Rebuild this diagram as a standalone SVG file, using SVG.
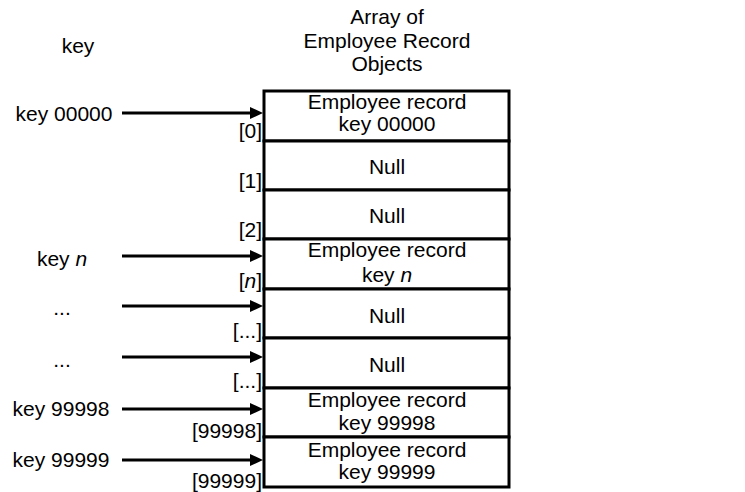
<svg xmlns="http://www.w3.org/2000/svg" width="745" height="492" viewBox="0 0 745 492">
<defs>
<style>
text{font-family:"Liberation Sans",Arial,sans-serif;font-size:21px;fill:#000}
.m{text-anchor:middle}
.e{text-anchor:end}
.cell{fill:#fff;stroke:#000;stroke-width:3}
.conn{stroke:#000;stroke-width:3;fill:none;marker-end:url(#ah)}
</style>
<marker id="ah" viewBox="0 0 13 12" refX="0" refY="6" markerWidth="13" markerHeight="12" markerUnits="userSpaceOnUse" orient="auto">
<path d="M0,0 L13,6 L0,12 z" fill="#000"/>
</marker>
</defs>
<rect width="745" height="492" fill="#fff"/>
<g id="title">
<text class="m" x="387" y="24">Array of</text>
<text class="m" x="387" y="48">Employee Record</text>
<text class="m" x="387" y="71">Objects</text>
</g>
<g id="key-header"><text class="m" x="78" y="53">key</text></g>
<g id="key-00000"><text class="m" x="64" y="121">key 00000</text></g>
<g id="key-n"><text class="m" x="62" y="266">key <tspan font-style="italic">n</tspan></text></g>
<g id="key-dots1"><text class="m" x="62" y="315">...</text></g>
<g id="key-dots2"><text class="m" x="62" y="367">...</text></g>
<g id="key-99998"><text class="m" x="61" y="416">key 99998</text></g>
<g id="key-99999"><text class="m" x="61" y="467">key 99999</text></g>

<g id="cell-0"><rect class="cell" x="264" y="91" width="245" height="50"/><text class="m" x="387" y="109">Employee record</text><text class="m" x="387" y="131">key 00000</text><text class="e" x="262" y="138">[0]</text></g>
<g id="cell-1"><rect class="cell" x="264" y="141" width="245" height="49"/><text class="m" x="387" y="174">Null</text><text class="e" x="262" y="188">[1]</text></g>
<g id="cell-2"><rect class="cell" x="264" y="190" width="245" height="49"/><text class="m" x="387" y="223">Null</text><text class="e" x="262" y="237">[2]</text></g>
<g id="cell-n"><rect class="cell" x="264" y="239" width="245" height="50"/><text class="m" x="387" y="257">Employee record</text><text class="m" x="387" y="282">key <tspan font-style="italic">n</tspan></text><text class="e" x="262" y="288">[<tspan font-style="italic">n</tspan>]</text></g>
<g id="cell-dots1"><rect class="cell" x="264" y="289" width="245" height="49"/><text class="m" x="387" y="323">Null</text><text class="e" x="262" y="338">[...]</text></g>
<g id="cell-dots2"><rect class="cell" x="264" y="338" width="245" height="50"/><text class="m" x="387" y="372">Null</text><text class="e" x="262" y="388">[...]</text></g>
<g id="cell-99998"><rect class="cell" x="264" y="388" width="245" height="49"/><text class="m" x="387" y="407">Employee record</text><text class="m" x="387" y="430">key 99998</text><text class="e" x="262" y="438">[99998]</text></g>
<g id="cell-99999"><rect class="cell" x="264" y="437" width="245" height="50"/><text class="m" x="387" y="457">Employee record</text><text class="m" x="387" y="479">key 99999</text><text class="e" x="262" y="488">[99999]</text></g>

<g id="connectors">
<line class="conn" x1="122" y1="113" x2="250" y2="113"/>
<line class="conn" x1="122" y1="256" x2="250" y2="256"/>
<line class="conn" x1="122" y1="306" x2="250" y2="306"/>
<line class="conn" x1="122" y1="357" x2="250" y2="357"/>
<line class="conn" x1="122" y1="409" x2="250" y2="409"/>
<line class="conn" x1="122" y1="460" x2="250" y2="460"/>
</g>
</svg>
